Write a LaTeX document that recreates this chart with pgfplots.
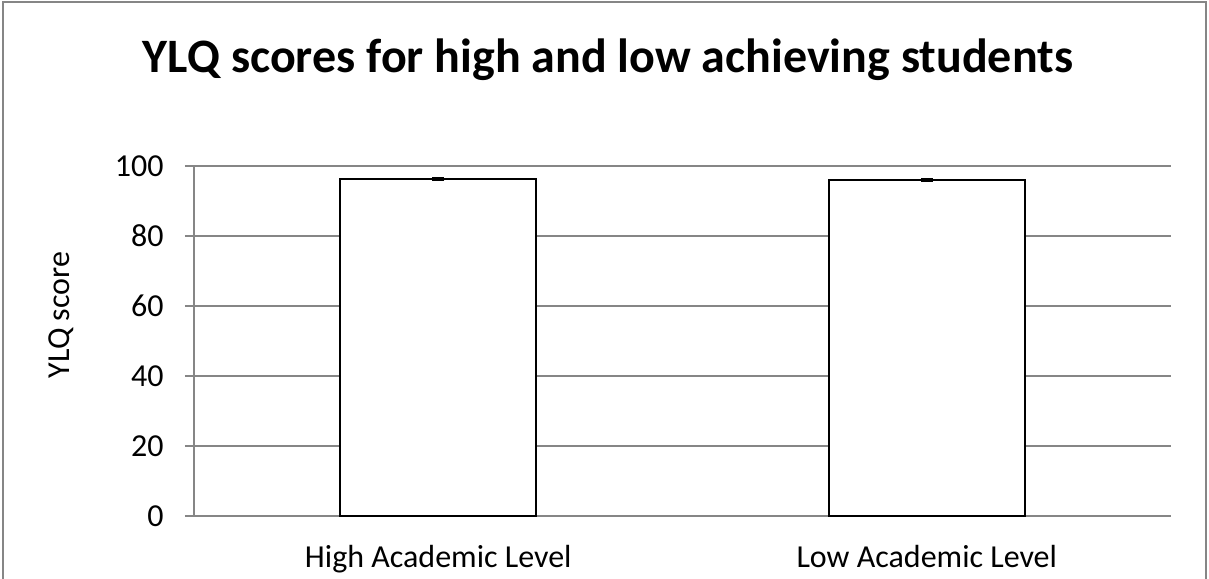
\documentclass[border=0pt]{standalone}
\usepackage{pgfplots}
\pgfplotsset{compat=1.18}
\usepackage{fontspec}
\setmainfont{Carlito}
\definecolor{gridgray}{HTML}{868686}
\begin{document}
\begin{tikzpicture}
\useasboundingbox (0,0) rectangle (604.5pt,289pt);
% outer chart frame (bottom edge lies outside the picture)
\draw[gridgray, line width=0.9pt] (1.5pt,-5pt) -- (1.5pt,288pt) -- (603pt,288pt) -- (603pt,-5pt);
\node[anchor=base, font=\fontsize{24}{28}\selectfont\bfseries] at (304pt,252.5pt)
  {YLQ scores for high and low achieving students};
\begin{axis}[
  at={(97pt,31pt)}, anchor=south west,
  scale only axis, width=488.5pt, height=175pt,
  xmin=-0.5, xmax=1.5, ymin=0, ymax=100,
  axis lines*=left,
  axis line style={gridgray, line width=0.75pt},
  ytick={0,20,...,100},
  ymajorgrids, grid style={gridgray, line width=0.75pt},
  ytick align=outside, major tick length=4.5pt,
  y tick style={gridgray, line width=0.75pt},
  xtick={0,1},
  xticklabels={High Academic Level, Low Academic Level},
  major x tick style={draw=none},
  extra x ticks={-0.5,0.5,1.5}, extra x tick labels={},
  extra x tick style={xtick align=outside, major tick length=5.5pt,
    tick style={gridgray, line width=0.75pt}, grid=none},
  /pgf/number format/assume math mode=true,
  tick label style={font=\fontsize{16}{19}\selectfont},
  yticklabel style={anchor=east, inner sep=0pt, xshift=-10.5pt},
  xticklabel style={anchor=base, inner sep=0pt, yshift=-25.5pt},
  ylabel={YLQ score},
  ylabel style={font=\fontsize{16}{19}\selectfont, at={(axis description cs:-0.1361,0.574)}, anchor=center},
  clip=false,
]
\addplot[ybar, bar width=98pt, fill=white, draw=black, line width=1pt,
  error bars/.cd, y dir=both, y explicit,
  error mark options={black, line width=1.5pt, mark size=3pt, rotate=90}]
  coordinates {(0,96.3) +- (0,0.15) (1,96.0) +- (0,0.15)};
\end{axis}
\end{tikzpicture}
\end{document}
